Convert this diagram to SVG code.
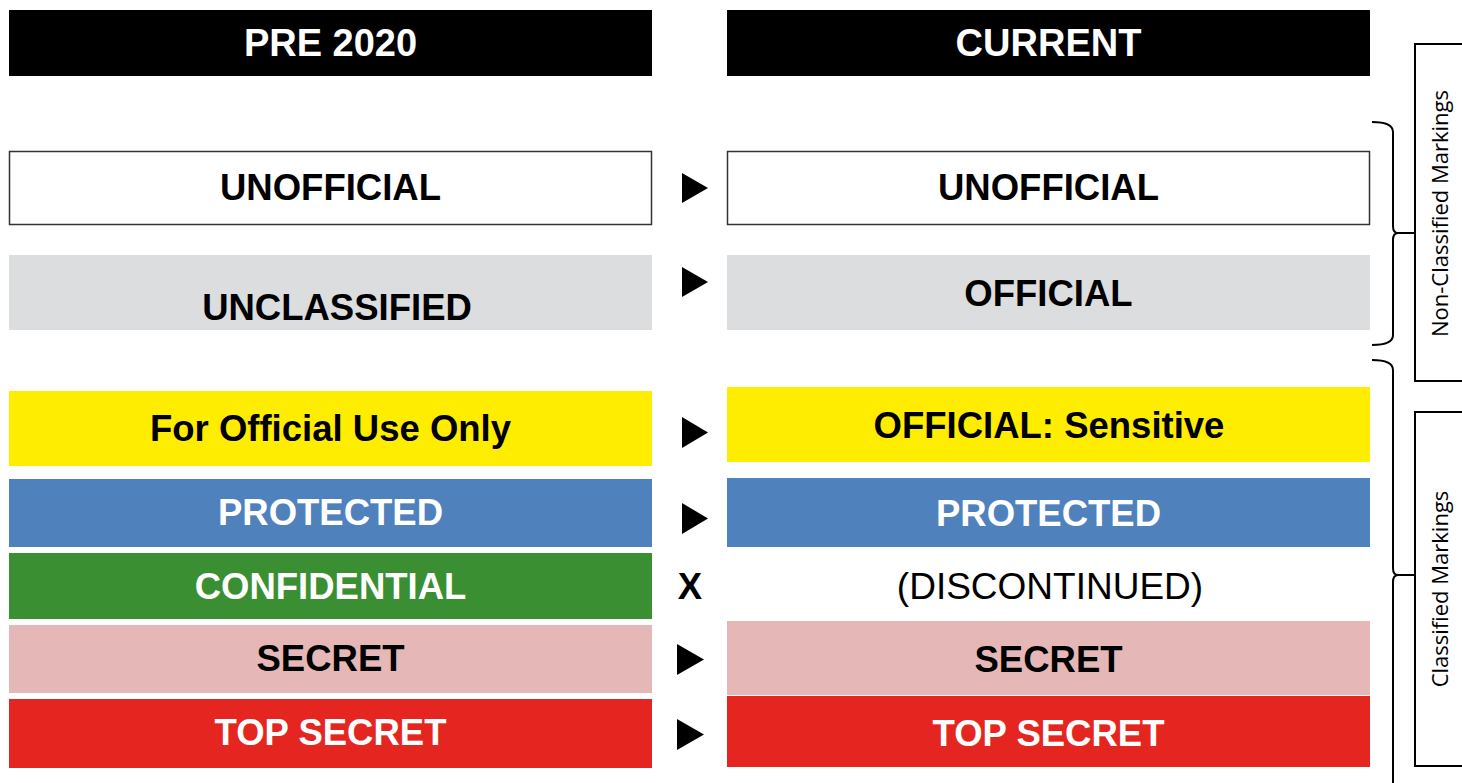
<svg xmlns="http://www.w3.org/2000/svg" width="1462" height="783" viewBox="0 0 1462 783">
<style>
.t{font-family:"Liberation Sans",Arial,sans-serif;font-size:36.5px;font-weight:bold;text-anchor:middle}
.h{font-size:38px}
.w{fill:#fff}
.k{fill:#000}
.r{font-family:"Liberation Sans",Arial,sans-serif;font-size:37px;text-anchor:middle;fill:#000}
.side{font-family:"Open Sans",sans-serif;font-size:22px;text-anchor:middle;fill:#000}
.arr{fill:#000}
.br{fill:none;stroke:#000;stroke-width:2}
.lbl{fill:#fff;stroke:#000;stroke-width:2}
</style>
<rect width="1462" height="783" fill="#fff"/>
<g id="hdr-pre"><rect x="9" y="10" width="643" height="66" fill="#000"/><text class="t h w" x="330.5" y="56">PRE 2020</text></g>
<g id="hdr-cur"><rect x="727" y="10" width="643" height="66" fill="#000"/><text class="t h w" x="1048.5" y="56">CURRENT</text></g>

<g id="pre-unofficial"><rect x="9.5" y="151.5" width="642" height="73" fill="#fff" stroke="#333" stroke-width="1.5"/><text class="t k" x="330.5" y="200">UNOFFICIAL</text></g>
<g id="cur-unofficial"><rect x="727.5" y="151.5" width="642" height="73" fill="#fff" stroke="#333" stroke-width="1.5"/><text class="t k" x="1048.5" y="200">UNOFFICIAL</text></g>

<g id="pre-unclassified"><rect x="9" y="255" width="643" height="75" fill="#DCDDDF"/><text class="t k" x="337" y="320">UNCLASSIFIED</text></g>
<g id="cur-official"><rect x="727" y="255" width="643" height="75" fill="#DCDDDF"/><text class="t k" x="1048.5" y="306">OFFICIAL</text></g>

<g id="pre-fouo"><rect x="9" y="391" width="643" height="75" fill="#FFED00"/><text class="t k" x="330.5" y="441">For Official Use Only</text></g>
<g id="cur-sensitive"><rect x="727" y="387" width="643" height="75" fill="#FFED00"/><text class="t k" x="1049" y="438">OFFICIAL: Sensitive</text></g>

<g id="pre-protected"><rect x="9" y="479" width="643" height="68" fill="#4F81BD"/><text class="t w" x="330.5" y="525">PROTECTED</text></g>
<g id="cur-protected"><rect x="727" y="478" width="643" height="69" fill="#4F81BD"/><text class="t w" x="1048.5" y="526">PROTECTED</text></g>

<g id="pre-confidential"><rect x="9" y="553" width="643" height="66" fill="#3A8F32"/><text class="t w" x="330.5" y="599">CONFIDENTIAL</text></g>
<g id="cur-discontinued"><text class="r" x="1050" y="599">(DISCONTINUED)</text></g>

<g id="pre-secret"><rect x="9" y="625" width="643" height="68" fill="#E5B8B7"/><text class="t k" x="330.5" y="671">SECRET</text></g>
<g id="cur-secret"><rect x="727" y="621" width="643" height="74" fill="#E5B8B7"/><text class="t k" x="1048.5" y="672">SECRET</text></g>

<g id="pre-topsecret"><rect x="9" y="699" width="643" height="69" fill="#E52620"/><text class="t w" x="330.5" y="745">TOP SECRET</text></g>
<g id="cur-topsecret"><rect x="727" y="696" width="643" height="71" fill="#E52620"/><text class="t w" x="1048.5" y="746">TOP SECRET</text></g>

<g id="connectors">
<polygon class="arr" points="682,173 708,188 682,203"/>
<polygon class="arr" points="682,267 708,282 682,297"/>
<polygon class="arr" points="682,417 708,432.5 682,448"/>
<polygon class="arr" points="682,503 708,518.5 682,534"/>
<text class="t k" x="690" y="599">X</text>
<polygon class="arr" points="677,644 704,659.5 677,675"/>
<polygon class="arr" points="677,719 704,734.5 677,750"/>
</g>

<g id="brace-nonclassified">
<path class="br" d="M1372,122 Q1393,122 1393,132 L1393,226 Q1393,233 1398,233 L1415,233 M1398,233 Q1393,233 1393,240 L1393,335 Q1393,345 1372,345"/>
</g>
<g id="brace-classified">
<path class="br" d="M1372,360 Q1393,360 1393,370 L1393,568 Q1393,575 1398,575 L1415,575 M1398,575 Q1393,575 1393,582 L1393,783"/>
</g>
<g id="label-nonclassified"><rect class="lbl" x="1415" y="44" width="60" height="337"/><text class="side" transform="translate(1448,213.5) rotate(-90)">Non-Classified Markings</text></g>
<g id="label-classified"><rect class="lbl" x="1415" y="412" width="60" height="354"/><text class="side" transform="translate(1448,589) rotate(-90)">Classified Markings</text></g>
</svg>
